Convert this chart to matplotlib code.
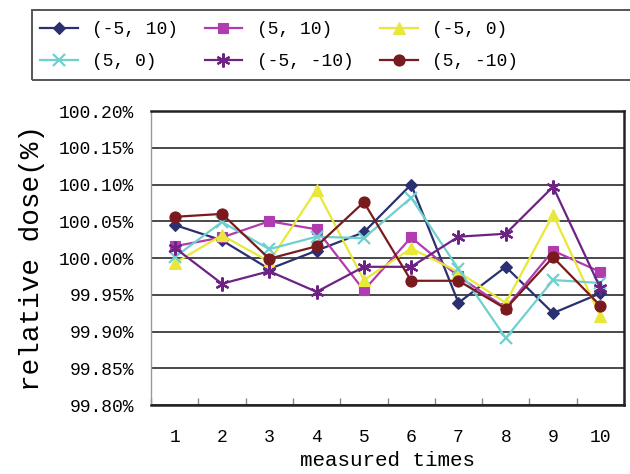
import matplotlib.pyplot as plt
import numpy as np
from matplotlib.patches import Rectangle
from matplotlib.ticker import FixedLocator, NullFormatter

times = np.arange(1, 11)

labels = ["(-5, 10)", "(5, 10)", "(-5, 0)", "(5, 0)", "(-5, -10)", "(5, -10)"]

dose_m5_p10 = [100.045, 100.024, 99.985, 100.010, 100.035, 100.100, 99.939, 99.988, 99.925, 99.952]
dose_p5_p10 = [100.016, 100.028, 100.050, 100.039, 99.956, 100.028, 99.975, 99.932, 100.010, 99.981]
dose_m5_0 = [99.993, 100.031, 99.995, 100.093, 99.970, 100.013, 99.981, 99.939, 100.059, 99.921]
dose_p5_0 = [100.001, 100.049, 100.012, 100.029, 100.027, 100.082, 99.985, 99.891, 99.970, 99.966]
dose_m5_m10 = [100.014, 99.965, 99.982, 99.954, 99.988, 99.988, 100.029, 100.033, 100.097, 99.959]
dose_p5_m10 = [100.056, 100.060, 99.999, 100.016, 100.076, 99.969, 99.969, 99.931, 100.001, 99.935]

series = [dose_m5_p10, dose_p5_p10, dose_m5_0, dose_p5_0, dose_m5_m10, dose_p5_m10]
colors = ["#2b3170", "#b03cb0", "#e8e83a", "#6fd0d0", "#6e2384", "#7a1a1e"]
markers = ["D", "s", "^", "x", (6, 2, 0), "o"]
msizes = [6, 7, 8, 8, 10, 8]

font = "Liberation Mono"

fig = plt.figure(figsize=(6.3, 4.74), dpi=100)
ax = fig.add_axes([151 / 630, 1 - 405 / 474, 473 / 630, 294 / 474])

handles = []
for vals, c, m, ms in zip(series, colors, markers, msizes):
    (h,) = ax.plot(times, vals, color=c, marker=m, markersize=ms, linewidth=1.6,
                   markeredgewidth=1.6 if m in ("x", (6, 2, 0)) else 0.8,
                   markeredgecolor=c, markerfacecolor=c)
    handles.append(h)

ax.set_xlim(0.5, 10.5)
ax.set_ylim(99.80, 100.20)
yt = np.arange(99.80, 100.201, 0.05)
ax.set_yticks(yt)
ax.set_yticklabels([f"{v:.2f}%" for v in yt], fontfamily=font, fontsize=13)
ax.yaxis.grid(True, color="#3a3a3a", linewidth=1.3)
ax.set_axisbelow(True)
ax.tick_params(axis="y", length=0, pad=12)

ax.xaxis.set_major_locator(FixedLocator(np.arange(0.5, 11, 1)))
ax.xaxis.set_major_formatter(NullFormatter())
ax.xaxis.set_minor_locator(FixedLocator(times))
ax.set_xticklabels([str(t) for t in times], minor=True, fontfamily=font, fontsize=13)
ax.tick_params(axis="x", which="major", direction="in", length=5, width=1, color="#888888")
ax.tick_params(axis="x", which="minor", length=0, pad=17)

ax.set_xlabel("measured times", fontfamily=font, fontsize=15, labelpad=4)
ax.set_ylabel("relative dose(%)", fontfamily=font, fontsize=20, labelpad=10)

for side in ("top", "right", "bottom"):
    ax.spines[side].set_linewidth(1.8)
    ax.spines[side].set_color("#222222")
ax.spines["left"].set_color("#999999")
ax.spines["left"].set_linewidth(1.0)

fig.add_artist(Rectangle((32 / 630, 1 - 80 / 474), 620 / 630, 70 / 474,
                         transform=fig.transFigure, fill=False,
                         edgecolor="#555555", linewidth=1.4))

# legend fills column-wise, reorder so rows read like the reference
order = [0, 3, 1, 4, 2, 5]
fig.legend([handles[i] for i in order], [labels[i] for i in order], ncol=3,
           loc="upper left", bbox_to_anchor=(40 / 630, 1 - 21 / 474), frameon=False,
           prop={"family": font, "size": 13}, handlelength=2.1,
           handletextpad=0.8, columnspacing=1.45, labelspacing=0.85,
           borderaxespad=0, borderpad=0)

fig.savefig("out.png", dpi=100)
